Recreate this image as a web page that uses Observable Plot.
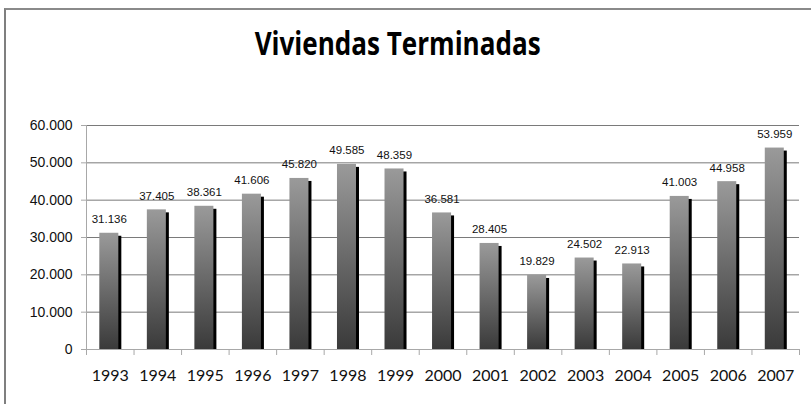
<!DOCTYPE html>
<html>
<head>
<meta charset="utf-8">
<script src="https://cdn.jsdelivr.net/npm/d3@7"></script>
<script src="https://cdn.jsdelivr.net/npm/@observablehq/plot@0.6"></script>
<style>
  html, body { margin: 0; padding: 0; background: #fff; }
  #wrap { position: relative; width: 811px; height: 404px; overflow: hidden; background: #fff; }
  #frame { position: absolute; left: 4px; top: 8px; width: 820px; height: 420px;
           border-left: 2px solid #7f7f7f; border-top: 2px solid #8a8a8a; pointer-events: none; }
  #head { position: relative; height: 100px; }
  #title { position: absolute; left: 0; width: 796px; top: 27px; text-align: center;
           font-family: "Open Sans", sans-serif; font-weight: 700; font-size: 32px; line-height: 32px;
           color: #000; margin: 0; white-space: nowrap; }
  #title span { display: inline-block; transform-origin: center; }
  #chart svg { display: block; }
</style>
</head>
<body>
<div id="wrap">
  <div id="head"><h1 id="title"><span>Viviendas Terminadas</span></h1></div>
  <div id="chart"></div>
  <div id="frame"></div>
</div>
<script>
const years = [1993, 1994, 1995, 1996, 1997, 1998, 1999, 2000, 2001, 2002, 2003, 2004, 2005, 2006, 2007];
const viviendas = [31136, 37405, 38361, 41606, 45820, 49585, 48359, 36581, 28405, 19829, 24502, 22913, 41003, 44958, 53959];
const yTicks = [0, 10000, 20000, 30000, 40000, 50000, 60000];

const data = years.map((year, i) => ({year, value: viviendas[i]}));
const bounds = years.map(y => y - 0.5).concat([years[years.length - 1] + 0.5]);
const locale = d3.formatLocale({decimal: ",", thousands: ".", grouping: [3], currency: ["", "€"]});
const fmt = locale.format(",");

const defs = () => {
  const ns = "http://www.w3.org/2000/svg";
  const d = document.createElementNS(ns, "defs");
  const g = document.createElementNS(ns, "linearGradient");
  g.setAttribute("id", "barGrad");
  g.setAttribute("x1", "0"); g.setAttribute("y1", "0");
  g.setAttribute("x2", "0"); g.setAttribute("y2", "1");
  [["0%", "#9a9a9a"], ["100%", "#3a3a3a"]].forEach(([o, c]) => {
    const s = document.createElementNS(ns, "stop");
    s.setAttribute("offset", o); s.setAttribute("stop-color", c);
    g.appendChild(s);
  });
  d.appendChild(g);
  return d;
};

const chart = Plot.plot({
  width: 811,
  height: 304,
  marginTop: 25,
  marginBottom: 55,
  marginLeft: 86,
  marginRight: 12,
  style: {fontFamily: "'Liberation Sans', Arial, sans-serif", background: "#fff", color: "#000"},
  x: {type: "linear", domain: [bounds[0], bounds[bounds.length - 1]]},
  y: {domain: [0, 60000]},
  marks: [
    defs,
    Plot.ruleY(yTicks.filter(t => t > 0), {stroke: "#7a7a7a"}),
    Plot.rectY(data, {x1: d => d.year - 0.22, x2: d => d.year + 0.18, y: "value", fill: "#000", dx: 3, dy: 3, clip: true}),
    Plot.rectY(data, {x1: d => d.year - 0.22, x2: d => d.year + 0.18, y: "value", fill: "url(#barGrad)"}),
    Plot.ruleY([0], {stroke: "#a8a8a8"}),
    Plot.ruleX([bounds[0]], {stroke: "#a8a8a8"}),
    Plot.text(data, {x: "year", y: "value", text: d => fmt(d.value), dy: -10, dx: -1,
      lineAnchor: "bottom", fontSize: 11.5, fill: "#111"}),
    Plot.axisY({ticks: yTicks, tickFormat: fmt, tickSize: 5, tickPadding: 9, fontSize: 14,
      stroke: "#a8a8a8", fill: "#111", label: null}),
    Plot.axisX({ticks: bounds, tickSize: 6, tickFormat: () => "", stroke: "#a8a8a8", label: null}),
    Plot.axisX({ticks: years, tickSize: 0, tickPadding: 20, tickFormat: d => String(d), fontSize: 16,
      fontFamily: "Lato, sans-serif", fill: "#111", label: null, letterSpacing: "-0.4px"})
  ]
});
document.getElementById("chart").appendChild(chart);

// fit title to reference width
const span = document.querySelector("#title span");
const w = span.getBoundingClientRect().width;
span.style.transform = `scaleX(${286 / w})`;
</script>
</body>
</html>
